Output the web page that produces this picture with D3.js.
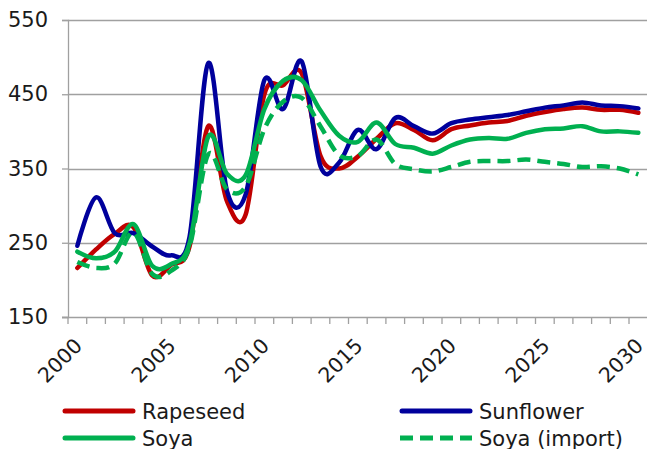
<!DOCTYPE html>
<html>
<head>
<meta charset="utf-8">
<script src="https://cdn.jsdelivr.net/npm/d3@7"></script>
<style>
  html, body { margin: 0; padding: 0; background: #fff; }
  svg { display: block; }
  text { font-family: "DejaVu Sans", Verdana, sans-serif; fill: #1a1a1a; }
</style>
</head>
<body>
<div id="chart"></div>
<script>
const years = d3.range(2000, 2031);
const yTicks = [150, 250, 350, 450, 550];
const xLabelYears = [2000, 2005, 2010, 2015, 2020, 2025, 2030];

const rapeseed = [216, 241, 262, 271, 206, 220, 245, 407, 306, 288, 450, 462, 478, 367, 350, 366, 390, 411, 402, 388, 403, 408, 412, 414, 421, 426, 430, 432, 429, 429, 425];
const sunflower = [246, 311, 263, 263, 245, 233, 258, 492, 320, 315, 469, 430, 494, 353, 358, 402, 376, 418, 407, 397, 411, 416, 419, 422, 427, 432, 435, 439, 435, 434, 431];
const soya = [238, 229, 238, 275, 219, 221, 249, 393, 343, 341, 430, 468, 469, 428, 394, 386, 412, 383, 378, 370, 381, 389, 391, 390, 398, 403, 404, 407, 400, 400, 398];
const soyaImport = [224, 216, 222, 264, 208, 212, 245, 369, 322, 326, 403, 440, 445, 407, 368, 367, 389, 356, 349, 346, 352, 359, 360, 360, 362, 359, 356, 352, 353, 350, 342];

const seriesNames = ["Rapeseed", "Sunflower", "Soya", "Soya (import)"];
const seriesColors = ["#C00000", "#00009C", "#00B050", "#00B050"];
const seriesDash = [null, null, null, "13,7"];
const seriesData = [rapeseed, sunflower, soya, soyaImport];

const W = 647, H = 449;
const plot = { left: 68, right: 647.7, top: 20, bottom: 317 };

const svg = d3.select("#chart").append("svg").attr("width", W).attr("height", H);

const x = d3.scaleBand().domain(years).range([plot.left, plot.right]).paddingInner(0).paddingOuter(0);
const y = d3.scaleLinear().domain([150, 550]).range([plot.bottom, plot.top]);

const grid = "#A0A0A0";

// gridlines
svg.append("g").selectAll("line").data(yTicks.filter(d => d !== 150)).join("line")
  .attr("x1", plot.left).attr("x2", W)
  .attr("y1", d => Math.round(y(d)) + 0.5).attr("y2", d => Math.round(y(d)) + 0.5)
  .attr("stroke", grid).attr("stroke-width", 1.3);

// y axis
const yAxis = d3.axisLeft(y).tickValues(yTicks).tickSize(6).tickPadding(14);
const gy = svg.append("g").attr("transform", `translate(${plot.left},0)`).call(yAxis);
gy.select(".domain").attr("stroke", grid).attr("stroke-width", 1.3);
gy.selectAll(".tick line").attr("stroke", grid).attr("stroke-width", 1.3);
gy.selectAll(".tick text").attr("font-size", 21).attr("font-family", "DejaVu Sans").attr("fill", "#1a1a1a");

// x axis line and ticks at category boundaries
const boundaries = years.map(d => x(d)).concat([plot.right]);
svg.append("line").attr("x1", plot.left - 6).attr("x2", W)
  .attr("y1", plot.bottom + 0.5).attr("y2", plot.bottom + 0.5)
  .attr("stroke", grid).attr("stroke-width", 1.3);
svg.append("g").selectAll("line").data(boundaries).join("line")
  .attr("x1", d => d).attr("x2", d => d)
  .attr("y1", plot.bottom).attr("y2", plot.bottom + 7)
  .attr("stroke", grid).attr("stroke-width", 1.3);

// x labels rotated
svg.append("g").selectAll("text").data(xLabelYears).join("text")
  .attr("transform", d => `translate(${x(d) + x.bandwidth() / 2 + 6},${plot.bottom + 30}) rotate(-45)`)
  .attr("text-anchor", "end")
  .attr("font-size", 20.5)
  .text(d => d);

// lines
const line = d3.line()
  .x((d, i) => x(years[i]) + x.bandwidth() / 2)
  .y(d => y(d))
  .curve(d3.curveCatmullRom.alpha(0));

svg.append("g").selectAll("path").data(seriesData).join("path")
  .attr("d", d => line(d))
  .attr("fill", "none")
  .attr("stroke", (d, i) => seriesColors[i])
  .attr("stroke-width", 4.5)
  .attr("stroke-dasharray", (d, i) => seriesDash[i])
  .attr("stroke-linejoin", "round")
  .attr("stroke-linecap", (d, i) => seriesDash[i] ? "butt" : "round");

// legend
const legendPos = [
  { lx: 63, ly: 411 },
  { lx: 400, ly: 411 },
  { lx: 63, ly: 438 },
  { lx: 400, ly: 438 }
];
const lg = svg.append("g");
seriesNames.forEach((name, i) => {
  const p = legendPos[i];
  lg.append("line")
    .attr("x1", p.lx + (seriesDash[i] ? 0 : 2)).attr("x2", p.lx + (seriesDash[i] ? 72 : 70))
    .attr("y1", p.ly).attr("y2", p.ly)
    .attr("stroke", seriesColors[i]).attr("stroke-width", 5)
    .attr("stroke-dasharray", seriesDash[i])
    .attr("stroke-linecap", seriesDash[i] ? "butt" : "round");
  lg.append("text")
    .attr("x", p.lx + 79).attr("y", p.ly + 7.5)
    .attr("font-size", 21)
    .text(name);
});
</script>
</body>
</html>
